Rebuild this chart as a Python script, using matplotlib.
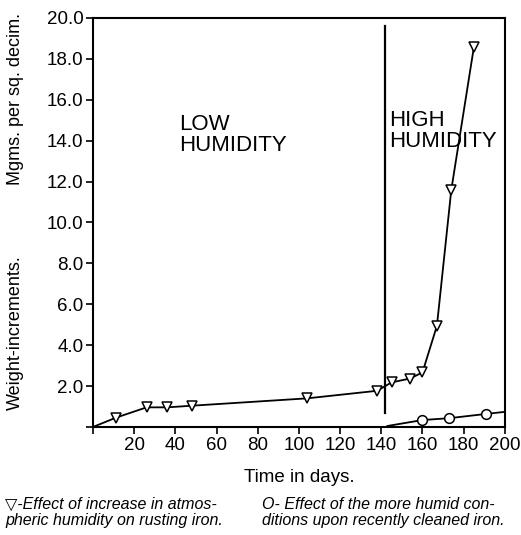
import matplotlib
matplotlib.use("Agg")
import matplotlib.pyplot as plt

# triangle series: increase in atmospheric humidity (first point is the origin, no marker)
tri_days = [0, 11, 26, 36, 48, 104, 138, 145, 154, 160, 167, 174, 185]
tri_gain = [0, 0.45, 0.96, 0.96, 1.04, 1.4, 1.77, 2.18, 2.37, 2.67, 4.94, 11.6, 18.6]

# circle series: recently cleaned iron (ends and start have no marker)
circ_days = [143, 160, 173, 191, 200]
circ_gain = [0.05, 0.34, 0.43, 0.64, 0.74]

x_ticks = [0, 20, 40, 60, 80, 100, 120, 140, 160, 180, 200]
y_ticks = [0, 2, 4, 6, 8, 10, 12, 14, 16, 18, 20]

boundary_day = 142

plt.rcParams["font.family"] = ["Liberation Sans", "DejaVu Sans"]

fig = plt.figure(figsize=(5.21, 5.35), dpi=100)
ax = fig.add_axes([0.1785, 0.2019, 0.7905, 0.7645])

ax.plot(tri_days, tri_gain, color="black", lw=1.3, marker="v", ms=7,
        mfc="white", mec="black", mew=1.1, markevery=list(range(1, len(tri_days))))
ax.plot(circ_days, circ_gain, color="black", lw=1.3, marker="o", ms=7,
        mfc="white", mec="black", mew=1.1, markevery=[1, 2, 3])

ax.plot([boundary_day, boundary_day], [0.7, 19.6], color="black", lw=1.6)

ax.set_xlim(0, 200)
ax.set_ylim(0, 20)
ax.set_xticks(x_ticks)
ax.set_yticks(y_ticks)
# no label at the origin
ax.set_xticklabels([str(t) if t else "" for t in x_ticks])
ax.set_yticklabels([f"{t:.1f}" if t else "" for t in y_ticks])
ax.tick_params(direction="out", length=5, width=1.2, labelsize=13.5, pad=2)
for s in ax.spines.values():
    s.set_linewidth(1.5)

ax.text(42, 15.3, "LOW\nHUMIDITY", fontsize=16, va="top", ha="left", linespacing=1.0)
ax.text(143.7, 15.5, "HIGH\nHUMIDITY", fontsize=16, va="top", ha="left", linespacing=1.0)

fig.text(0.03, 0.378, "Weight-increments.", rotation=90, fontsize=13, ha="center", va="center")
fig.text(0.03, 0.815, "Mgms. per sq. decim.", rotation=90, fontsize=13, ha="center", va="center")

fig.text(0.575, 0.107, "Time in days.", fontsize=13.5, ha="center", va="center")

fig.text(0.01, 0.042, "\u25bd-Effect of increase in atmos-\npheric humidity on rusting iron.",
         fontsize=11.5, style="italic", ha="left", va="center", linespacing=1.15)
fig.text(0.503, 0.042, "O- Effect of the more humid con-\nditions upon recently cleaned iron.",
         fontsize=11.5, style="italic", ha="left", va="center", linespacing=1.15)

fig.savefig("out.png", dpi=100)
